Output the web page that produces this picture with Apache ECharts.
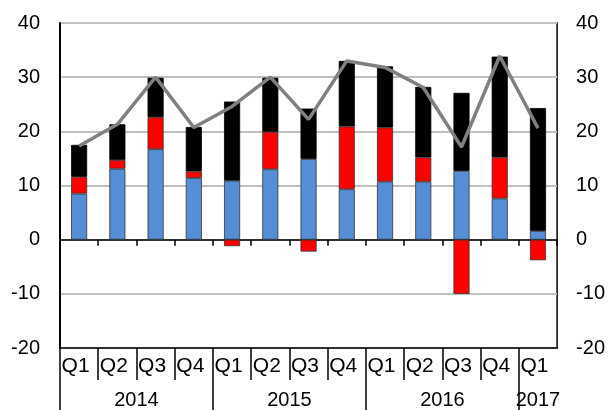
<!DOCTYPE html>
<html>
<head>
<meta charset="utf-8">
<script src="https://cdn.jsdelivr.net/npm/echarts@6/dist/echarts.min.js"></script>
<style>html,body{margin:0;padding:0;background:#fff}#c{width:608px;height:410px}</style>
</head>
<body>
<div id="c"></div>
<script>
var quarters = ['Q1','Q2','Q3','Q4','Q1','Q2','Q3','Q4','Q1','Q2','Q3','Q4','Q1'];
var years = ['2014','2015','2016','2017'];
var yearSpans = [4,4,4,1];
var blueVals = [8.5, 13.1, 16.7, 11.4, 10.9, 13.0, 14.9, 9.3, 10.7, 10.7, 12.7, 7.6, 1.6];
var redVals = [3.1, 1.6, 5.9, 1.2, -1.2, 6.9, -2.2, 11.6, 10.0, 4.5, -10.0, 7.6, -3.8];
var blackVals = [5.9, 6.6, 7.3, 8.2, 14.6, 10.0, 9.3, 12.1, 11.3, 13.0, 14.4, 18.6, 22.7];
var totalVals = [17.3, 21.3, 30.0, 20.7, 24.6, 30.0, 22.2, 33.0, 31.8, 28.1, 17.1, 33.9, 20.6];

var n = quarters.length;
var qLabelPos = [], qTickPos = [];
for (var i = 0; i < n; i++) { qLabelPos.push(i + 0.5); if (i > 0) qTickPos.push(i); }
var yLabelPos = [], yTickPos = [], acc = 0;
for (var j = 0; j < years.length; j++) { yTickPos.push(acc); yLabelPos.push(acc + yearSpans[j] / 2); acc += yearSpans[j]; }

var font = 'Liberation Sans, Arial, sans-serif';
var chart = echarts.init(document.getElementById('c'));
var barBorder = {borderColor: '#333', borderWidth: 0.8};
chart.setOption({
  animation: false,
  grid: {left: 60, right: 50, top: 23, bottom: 62, show: true, borderColor: '#000', borderWidth: 1.5, backgroundColor: '#fff'},
  xAxis: [
    {type: 'category', data: quarters, position: 'bottom',
     axisLine: {onZero: true, onZeroAxisIndex: 0, lineStyle: {color: '#000', width: 1.5}},
     axisTick: {show: true, length: 6, lineStyle: {color: '#000', width: 1.5}},
     axisLabel: {show: false}, splitLine: {show: false}},
    {type: 'value', min: 0, max: n, position: 'bottom',
     axisLine: {show: true, onZero: false, lineStyle: {color: '#000', width: 1.5}},
     axisTick: {show: true, customValues: qTickPos, length: 32, lineStyle: {color: '#000', width: 1.5}},
     axisLabel: {show: true, customValues: qLabelPos, margin: 8, fontSize: 21, fontFamily: font, color: '#000',
       padding: [0, 7, 0, 0],
       formatter: function (v) { return quarters[Math.floor(v)]; }},
     splitLine: {show: false}},
    {type: 'value', min: 0, max: n, position: 'bottom',
     axisLine: {show: false, onZero: false},
     axisTick: {show: true, customValues: yTickPos, length: 62, lineStyle: {color: '#000', width: 1.5}},
     axisLabel: {show: true, customValues: yLabelPos, margin: 42, fontSize: 20, fontFamily: font, color: '#000',
       formatter: function (v) { for (var k = 0; k < yLabelPos.length; k++) { if (Math.abs(yLabelPos[k] - v) < 1e-6) return years[k]; } return ''; }},
     splitLine: {show: false}}
  ],
  yAxis: [
    {type: 'value', min: -20, max: 40, interval: 10, position: 'left',
     axisLine: {show: true, lineStyle: {color: '#000', width: 1.5}}, axisTick: {show: false},
     axisLabel: {margin: 20, fontSize: 20, fontFamily: font, color: '#000'},
     splitLine: {show: true, lineStyle: {color: '#c0c0c0', width: 2}}},
    {type: 'value', min: -20, max: 40, interval: 10, position: 'right',
     axisLine: {show: true, lineStyle: {color: '#000', width: 1.5}}, axisTick: {show: false},
     axisLabel: {margin: 19, fontSize: 20, fontFamily: font, color: '#000'},
     splitLine: {show: false}}
  ],
  series: [
    {type: 'bar', stack: 's', data: blueVals, barWidth: '42%', itemStyle: Object.assign({color: '#558ED5'}, barBorder)},
    {type: 'bar', stack: 's', data: redVals, itemStyle: Object.assign({color: '#FF0000'}, barBorder)},
    {type: 'bar', stack: 's', data: blackVals, itemStyle: {color: '#000', borderColor: '#000', borderWidth: 0.8}},
    {type: 'line', data: totalVals, symbol: 'none', z: 5, lineStyle: {color: '#808080', width: 3.5}}
  ]
});
</script>
</body>
</html>
